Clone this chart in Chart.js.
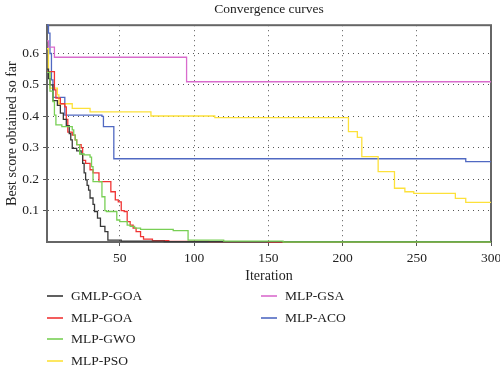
<!DOCTYPE html>
<html>
<head>
<meta charset="utf-8">
<script src="https://cdn.jsdelivr.net/npm/chart.js@4.4.1/dist/chart.umd.min.js"></script>
<style>
html, body { margin: 0; padding: 0; background: #fff; }
#wrap { position: relative; width: 500px; height: 369px; }
#legend { position: absolute; left: 47px; top: 286px; width: 440px; height: 80px;
  font-family: "Liberation Serif", serif; font-size: 13.5px; color: #222; }
.item { position: absolute; height: 20px; line-height: 20px; white-space: nowrap; }
.item .swatch { position: absolute; left: 0; top: 9px; width: 16px; height: 2px; opacity: 0.8; }
.item .label { position: absolute; left: 24px; top: 0; }
</style>
</head>
<body>
<div id="wrap">
  <canvas id="convChart" width="500" height="369"></canvas>
  <div id="legend"></div>
</div>
<script>
const seriesNames = ['GMLP-GOA', 'MLP-GOA', 'MLP-GWO', 'MLP-PSO', 'MLP-GSA', 'MLP-ACO']
const seriesColors = ['#383838', '#f03434', '#78cf55', '#fde13a', '#d96ccd', '#5069c2']

// best score per iteration, stored as (iteration where the value starts, value)
const gmlpGoaIter = [1, 2, 3, 5, 8, 10, 12, 14, 16, 17, 18, 21, 24, 25, 26, 27, 28, 29, 30, 32, 33, 35, 37, 40, 42, 51, 80, 300]
const gmlpGoaScore = [0.55, 0.52, 0.50, 0.45, 0.435, 0.41, 0.39, 0.37, 0.345, 0.325, 0.298, 0.29, 0.28, 0.25, 0.22, 0.198, 0.18, 0.165, 0.14, 0.12, 0.097, 0.076, 0.05, 0.033, 0.006, 0.003, 0.001, 0]

const mlpGoaIter = [1, 6, 7, 10, 13, 14, 15, 18, 20, 21, 24, 25, 27, 30, 32, 36, 44, 47, 49, 51, 53, 55, 57, 59, 61, 64, 66, 72, 83, 110, 150, 300]
const mlpGoaScore = [0.542, 0.484, 0.458, 0.44, 0.43, 0.39, 0.35, 0.34, 0.325, 0.31, 0.30, 0.26, 0.25, 0.23, 0.22, 0.192, 0.16, 0.134, 0.128, 0.10, 0.097, 0.065, 0.054, 0.044, 0.033, 0.017, 0.009, 0.004, 0.002, 0.001, 0, 0]

const mlpGwoIter = [1, 3, 5, 6, 7, 11, 18, 19, 20, 21, 23, 26, 30, 31, 32, 38, 40, 41, 48, 50, 55, 57, 60, 64, 86, 96, 120, 160, 300]
const mlpGwoScore = [0.54, 0.48, 0.447, 0.404, 0.373, 0.367, 0.357, 0.34, 0.325, 0.31, 0.28, 0.277, 0.27, 0.24, 0.192, 0.144, 0.10, 0.097, 0.07, 0.065, 0.054, 0.05, 0.044, 0.04, 0.036, 0.006, 0.003, 0, 0]

const mlpPsoIter = [1, 2, 3, 8, 9, 18, 30, 71, 114, 204, 210, 213, 224, 235, 242, 248, 276, 283, 300]
const mlpPsoScore = [0.615, 0.54, 0.49, 0.468, 0.44, 0.425, 0.414, 0.401, 0.396, 0.351, 0.333, 0.272, 0.224, 0.171, 0.16, 0.155, 0.139, 0.126, 0.126]

const mlpGsaIter = [1, 2, 6, 95, 300]
const mlpGsaScore = [0.64, 0.62, 0.588, 0.51, 0.51]

const mlpAcoIter = [1, 2, 3, 4, 5, 13, 38, 39, 46, 283, 300]
const mlpAcoScore = [0.69, 0.665, 0.60, 0.516, 0.46, 0.404, 0.40, 0.367, 0.265, 0.256, 0.256]

const xTickValues = [50, 100, 150, 200, 250, 300]
const yTickValues = [0.1, 0.2, 0.3, 0.4, 0.5, 0.6]

const allIters = [gmlpGoaIter, mlpGoaIter, mlpGwoIter, mlpPsoIter, mlpGsaIter, mlpAcoIter]
const allScores = [gmlpGoaScore, mlpGoaScore, mlpGwoScore, mlpPsoScore, mlpGsaScore, mlpAcoScore]

const serif = '"Liberation Serif", "Times New Roman", serif'
const textColor = '#222'

function toPoints(iters, scores){
    return iters.map((it, i) => ({x: it, y: scores[i]}))
}

const datasets = seriesNames.map((name, i) => ({
    label: name,
    data: toPoints(allIters[i], allScores[i]),
    borderColor: seriesColors[i],
    backgroundColor: seriesColors[i],
    borderWidth: 1.3,
    pointRadius: 0,
    stepped: true,
    fill: false,
    clip: 2,
    order: name === 'MLP-GWO' ? -1 : 0
}))

// box around the plot area, under the curves
const frame = {
    id: 'frame',
    beforeDatasetsDraw(chart){
        const {ctx, chartArea} = chart
        ctx.save()
        ctx.strokeStyle = '#666'
        ctx.lineWidth = 2
        ctx.strokeRect(chartArea.left, chartArea.top, chartArea.right - chartArea.left, chartArea.bottom - chartArea.top)
        ctx.restore()
    }
}

const gridOpts = { color: '#555', lineWidth: 1, tickLength: 4, tickColor: '#555', tickWidth: 1 }
const borderOpts = { color: '#666', width: 2, dash: [1, 4] }

const chart = new Chart(document.getElementById('convChart').getContext('2d'), {
    type: 'line',
    data: { datasets: datasets },
    options: {
        responsive: false,
        animation: false,
        layout: { padding: { left: 0, right: 9, top: 0, bottom: 80 } },
        plugins: {
            legend: { display: false },
            tooltip: { enabled: false },
            title: {
                display: true,
                text: 'Convergence curves',
                fullSize: false,
                color: textColor,
                font: { family: serif, size: 13.5, weight: 'normal' },
                padding: { top: 1, bottom: 8 }
            }
        },
        scales: {
            x: {
                type: 'linear',
                min: 1,
                max: 300,
                afterBuildTicks: s => { s.ticks = xTickValues.map(v => ({value: v})) },
                afterFit: s => { s.height = 47; s.paddingLeft = 0; s.paddingRight = 0 },
                ticks: { color: textColor, font: { family: serif, size: 13.5 }, padding: 4, maxRotation: 0 },
                grid: gridOpts,
                border: borderOpts,
                title: { display: true, text: 'Iteration', color: textColor,
                    font: { family: serif, size: 14 }, padding: { top: 0, bottom: 4 } }
            },
            y: {
                min: 0,
                max: 0.69,
                afterBuildTicks: s => { s.ticks = yTickValues.map(v => ({value: v})) },
                afterFit: s => { s.width = 47; s.paddingTop = 0; s.paddingBottom = 0 },
                ticks: { color: textColor, font: { family: serif, size: 13.5 }, padding: 4,
                    callback: v => v.toFixed(1) },
                grid: gridOpts,
                border: borderOpts,
                title: { display: true, text: 'Best score obtained so far', color: textColor,
                    font: { family: serif, size: 14 }, padding: { top: 4, bottom: 0 } }
            }
        }
    },
    plugins: [frame]
})

// two-column legend under the plot
const legendBox = document.getElementById('legend')
chart.data.datasets.forEach((ds, i) => {
    let col = i < 4 ? 0 : 1
    let row = i < 4 ? i : i - 4
    let item = document.createElement('div')
    item.className = 'item'
    item.style.left = (col * 214) + 'px'
    item.style.top = Math.round(row * 21.5) + 'px'
    let swatch = document.createElement('span')
    swatch.className = 'swatch'
    swatch.style.background = ds.borderColor
    let label = document.createElement('span')
    label.className = 'label'
    label.appendChild(document.createTextNode(ds.label))
    item.appendChild(swatch)
    item.appendChild(label)
    legendBox.appendChild(item)
})
</script>
</body>
</html>
